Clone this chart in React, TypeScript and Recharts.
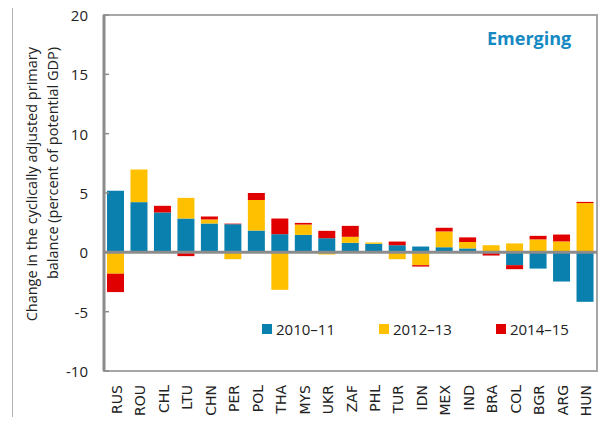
import { BarChart, Bar, XAxis, YAxis, ReferenceLine, ReferenceArea } from "recharts";

const countries = ["RUS", "ROU", "CHL", "LTU", "CHN", "PER", "POL", "THA", "MYS", "UKR", "ZAF", "PHL", "TUR", "IDN", "MEX", "IND", "BRA", "COL", "BGR", "ARG", "HUN"];
const p2010_11 = [5.2, 4.23, 3.36, 2.85, 2.43, 2.37, 1.84, 1.53, 1.47, 1.19, 0.8, 0.72, 0.6, 0.49, 0.43, 0.33, 0, -1.08, -1.37, -2.46, -4.17];
const p2012_13 = [-1.8, 2.75, 0, 1.74, 0.34, -0.58, 2.58, -3.16, 0.87, -0.18, 0.51, 0.11, -0.58, -1.08, 1.33, 0.54, 0.6, 0.75, 1.09, 0.92, 4.15];
const p2014_15 = [-1.55, 0, 0.56, -0.32, 0.25, 0.05, 0.59, 1.32, 0.14, 0.62, 0.92, 0, 0.31, -0.12, 0.31, 0.39, -0.27, -0.34, 0.3, 0.58, 0.1];
const yTicks = [-10, -5, 0, 5, 10, 15, 20];

const series = [
  { key: "a", name: "2010–11", color: "#0a80ae" },
  { key: "b", name: "2012–13", color: "#ffc000" },
  { key: "r", name: "2014–15", color: "#e00000" },
];

const data = countries.map((c, i) => ({ c, a: p2010_11[i], b: p2012_13[i], r: p2014_15[i] }));

const font = "'Open Sans', sans-serif";

function XTick(props: any) {
  const { x, y, payload } = props;
  return (
    <text
      transform={`translate(${x + 1}, ${y + 14}) rotate(-90)`}
      textAnchor="end"
      dominantBaseline="central"
      fontSize={14}
      fontFamily="'DejaVu Sans', sans-serif"
      fill="#222"
    >
      {payload.value}
    </text>
  );
}

function YTick(props: any) {
  const { x, y, payload } = props;
  return (
    <g>
      <line x1={x} x2={x + 5} y1={y} y2={y} stroke="#8c8c8c" strokeWidth={1.5} />
      <text x={x - 16} y={y} textAnchor="end" dominantBaseline="central" fontSize={15} fontFamily={font} fill="#222">
        {payload.value}
      </text>
    </g>
  );
}

function YLabel() {
  return (
    <g fontFamily={font} fontSize={14.5} fill="#222">
      <text transform="translate(31, 47) rotate(-90)" textAnchor="end" dominantBaseline="central">
        Change in the cyclically adjusted primary
      </text>
      <text transform="translate(52, 47) rotate(-90)" textAnchor="end" dominantBaseline="central">
        balance (percent of potential GDP)
      </text>
    </g>
  );
}

function LegendBox() {
  return (
    <div
      style={{
        position: "absolute",
        left: 262,
        top: 319,
        display: "flex",
        whiteSpace: "nowrap",
        fontFamily: font,
        fontSize: 15,
        color: "#222",
      }}
    >
      {series.map((s, i) => (
        <div key={s.key} style={{ display: "flex", alignItems: "center", marginRight: i < 2 ? 44 : 0 }}>
          <span style={{ width: 10, height: 10, background: s.color, marginRight: 4 }} />
          <span>{s.name}</span>
        </div>
      ))}
    </div>
  );
}

export default function App() {
  return (
    <div style={{ position: "relative", margin: -8, width: 607, height: 425, background: "#fff", overflow: "hidden" }}>
      <div
        style={{
          position: "absolute",
          left: 12,
          top: 3,
          width: 620,
          height: 440,
          borderLeft: "1px solid #b4b4b4",
          borderTop: "1px solid #b4b4b4",
        }}
      />
      <BarChart
        width={607}
        height={425}
        data={data}
        stackOffset="sign"
        margin={{ top: 15, right: 10, bottom: 1, left: 0 }}
        barSize={17}
        style={{ position: "absolute", left: 0, top: 0 }}
      >
        <ReferenceArea y1={-10} y2={20} fill="none" stroke="#a6a6a6" strokeWidth={2} ifOverflow="visible" />
        <XAxis dataKey="c" height={53} tickLine={false} tickSize={0} tickMargin={0} axisLine={false} tick={<XTick />} interval={0} />
        <YAxis
          width={104}
          domain={[-10, 20]}
          ticks={yTicks}
          tickLine={false}
          tickSize={0}
          tickMargin={0}
          axisLine={{ stroke: "#8c8c8c", strokeWidth: 3 }}
          tick={<YTick />}
          label={<YLabel />}
        />
        {series.map((s) => (
          <Bar key={s.key} dataKey={s.key} name={s.name} stackId="s" fill={s.color} isAnimationActive={false} />
        ))}
        <ReferenceLine y={0} stroke="#8c8c8c" strokeWidth={3} />
        <text x={487} y={38} fontFamily={font} fontSize={18} fontWeight={700} fill="#1589c2" dominantBaseline="central">
          Emerging
        </text>
      </BarChart>
      <LegendBox />
    </div>
  );
}
